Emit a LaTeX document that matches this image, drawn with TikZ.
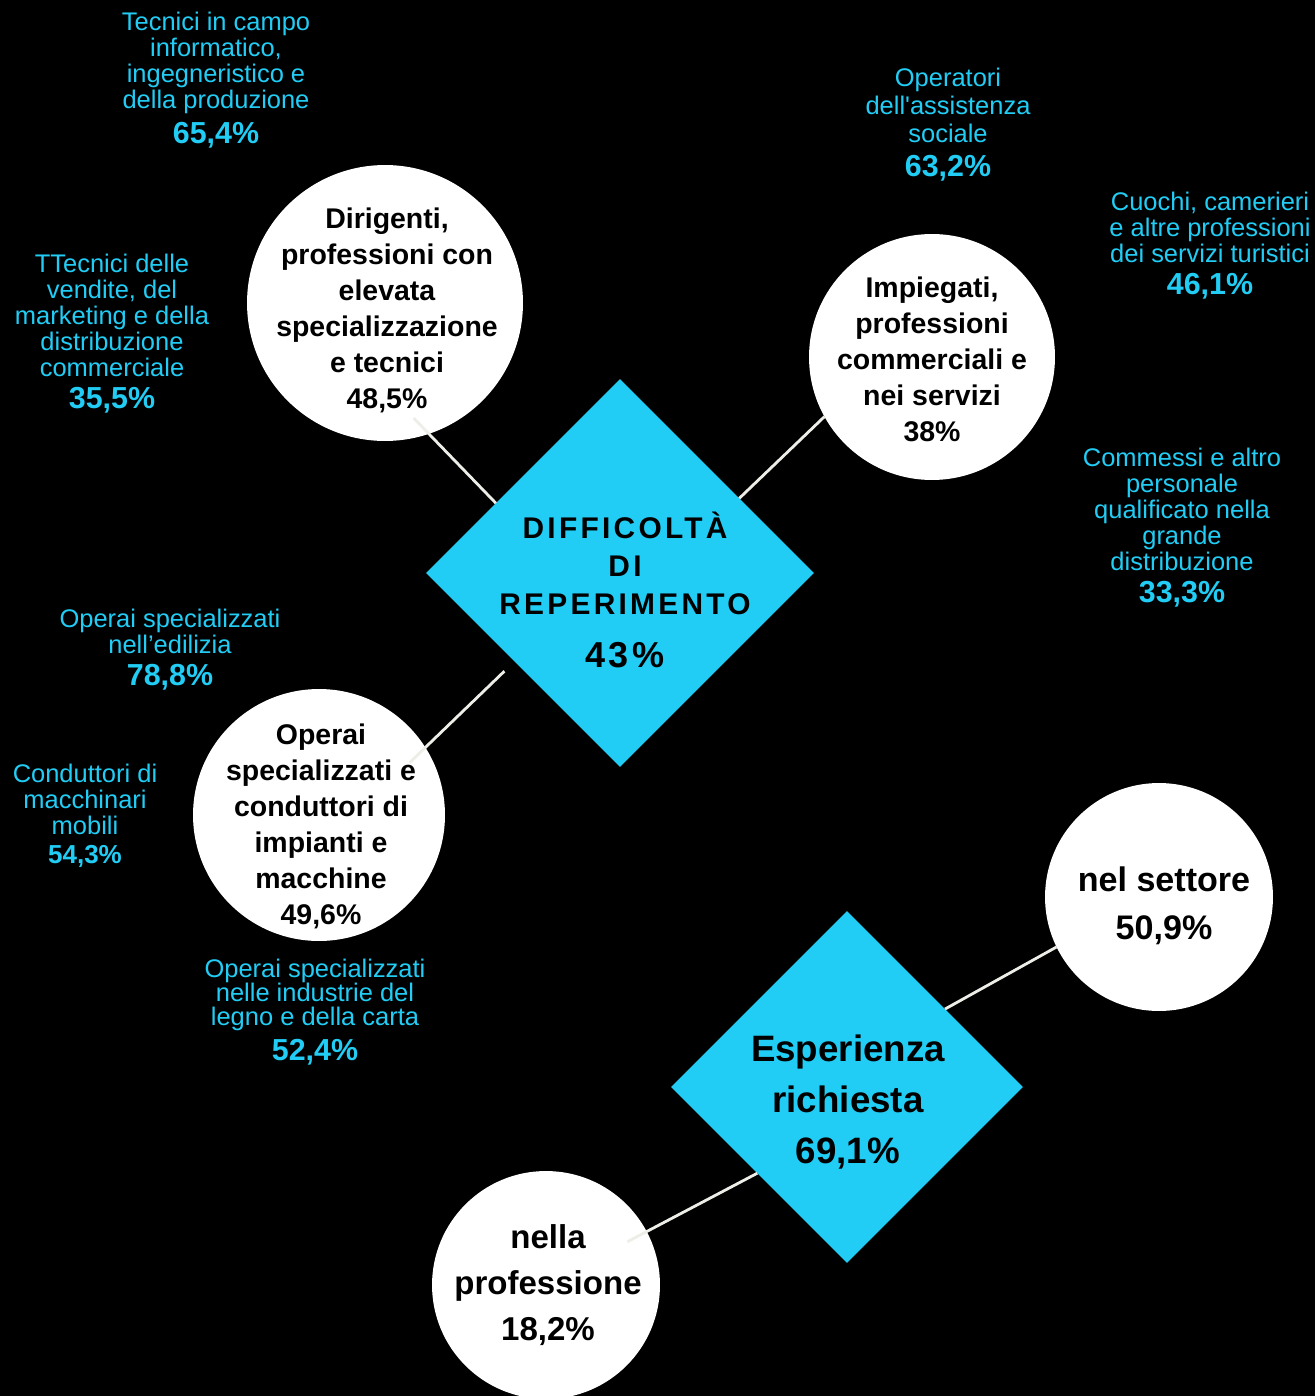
\documentclass[tikz,border=0pt]{standalone}
\usepackage{fontspec}
\setmainfont{Liberation Sans}
\newfontfamily\largato[LetterSpace=11]{Liberation Sans}
\usetikzlibrary{calc,shapes.geometric}
\definecolor{ciano}{RGB}{34,205,245}
\definecolor{grigiochiaro}{RGB}{238,238,232}
\newcommand{\pct}{\fontsize{17.3}{17.3}\selectfont\bfseries}
\tikzset{
  cerchio/.style={
    circle,
    fill=white,
    inner sep=0pt,
    outer sep=0pt
  },
  rombo/.style={
    diamond,
    fill=ciano,
    inner sep=0pt,
    outer sep=0pt
  },
  testo/.style={
    align=center,
    inner sep=0pt,
    text=black,
    font=\fontsize{16.2}{20.5}\selectfont\bfseries
  },
  voce/.style={
    align=center,
    inner sep=0pt,
    anchor=north,
    text=ciano,
    font=\fontsize{14.5}{14.8}\selectfont
  },
  linea/.style={
    line width=1.6pt,
    grigiochiaro
  }
}

\begin{document}
\begin{tikzpicture}[x=0.02cm,y=-0.02cm]
\fill[black] (0,0) rectangle (1315,1396);
\useasboundingbox (0,0) rectangle (1315,1396);
% difficolta di reperimento
\node[rombo, minimum width=7.76cm, minimum height=7.76cm] (diff) at (620,573) {};
\node[cerchio, minimum size=5.52cm] (dir) at (385,303) {};
\node[cerchio, minimum size=4.92cm] (imp) at (932,357) {};
\node[cerchio, minimum size=5.04cm] (op) at (319,815) {};
\node[testo, font=\largato\bfseries\fontsize{17}{21.6}\selectfont] (diff-t) at (625,590)
  {DIFFICOLTÀ\\DI\\REPERIMENTO\\[8.5pt]{\fontsize{20.5}{20.5}\selectfont 43\%}};
\node[testo] (dir-t) at (387,310) {Dirigenti,\\professioni con\\elevata\\specializzazione\\e tecnici\\48,5\%};
\node[testo] (imp-t) at (932,359) {Impiegati,\\professioni\\commerciali e\\nei servizi\\38\%};
\node[testo] (op-t) at (321,826) {Operai\\specializzati e\\conduttori di\\impianti e\\macchine\\49,6\%};
\draw[linea] ($(dir.center)!0.86!(dir.-76)$) -- ($(diff.west)!0.36!(diff.north)$);
\draw[linea] (imp.209) -- ($(diff.north)!0.615!(diff.east)$);
\draw[linea, shorten >=0.28cm] ($(op.center)!0.83!(op.30)$) -- ($(diff.west)!0.456!(diff.south)$);
% esperienza richiesta
\node[rombo, minimum width=7.04cm, minimum height=7.04cm] (esp) at (847,1087) {};
\node[cerchio, minimum size=4.56cm] (set) at (1159,897) {};
\node[cerchio, minimum size=4.56cm] (prof) at (546,1285) {};
\node[testo, font=\fontsize{20.9}{29}\selectfont\bfseries] (esp-t) at (848,1102) {Esperienza\\richiesta\\69,1\%};
\node[testo, font=\fontsize{19.4}{27.3}\selectfont\bfseries] (set-t) at (1164,906) {nel settore\\50,9\%};
\node[testo, font=\fontsize{18.8}{26.2}\selectfont\bfseries] (prof-t) at (548,1285) {nella\\professione\\18,2\%};
\draw[linea] (set.206) -- ($(esp.north)!0.557!(esp.east)$);
\draw[linea] ($(prof.center)!0.81!(prof.28)$) -- ($(esp.west)!0.49!(esp.south)$);
% professioni
\node[voce] (v-inf) at (216,12) {Tecnici in campo\\informatico,\\ingegneristico e\\della produzione\\[3.5pt]{\pct 65,4\%}};
\node[voce] (v-ven) at (112,254) {TTecnici delle\\vendite, del\\marketing e della\\distribuzione\\commerciale\\[3.3pt]{\pct 35,5\%}};
\node[voce, font=\fontsize{14.5}{15.9}\selectfont] (v-ass) at (948,68) {Operatori\\dell\textquotesingle assistenza\\sociale\\[3.3pt]{\pct 63,2\%}};
\node[voce] (v-tur) at (1210,192) {Cuochi, camerieri\\e altre professioni\\dei servizi turistici\\[3.3pt]{\pct 46,1\%}};
\node[voce] (v-gdo) at (1182,448) {Commessi e altro\\personale\\qualificato nella\\grande\\distribuzione\\[3.3pt]{\pct 33,3\%}};
\node[voce] (v-edi) at (170,609) {Operai specializzati\\nell’edilizia\\[3.3pt]{\pct 78,8\%}};
\node[voce] (v-mob) at (85,764) {Conduttori di\\macchinari\\mobili\\[1.4pt]{\fontsize{14.8}{14.8}\selectfont\bfseries 54,3\%}};
\node[voce, font=\fontsize{14.5}{13.7}\selectfont] (v-leg) at (315,959) {Operai specializzati\\nelle industrie del\\legno e della carta\\[3.3pt]{\pct 52,4\%}};
\end{tikzpicture}
\end{document}
